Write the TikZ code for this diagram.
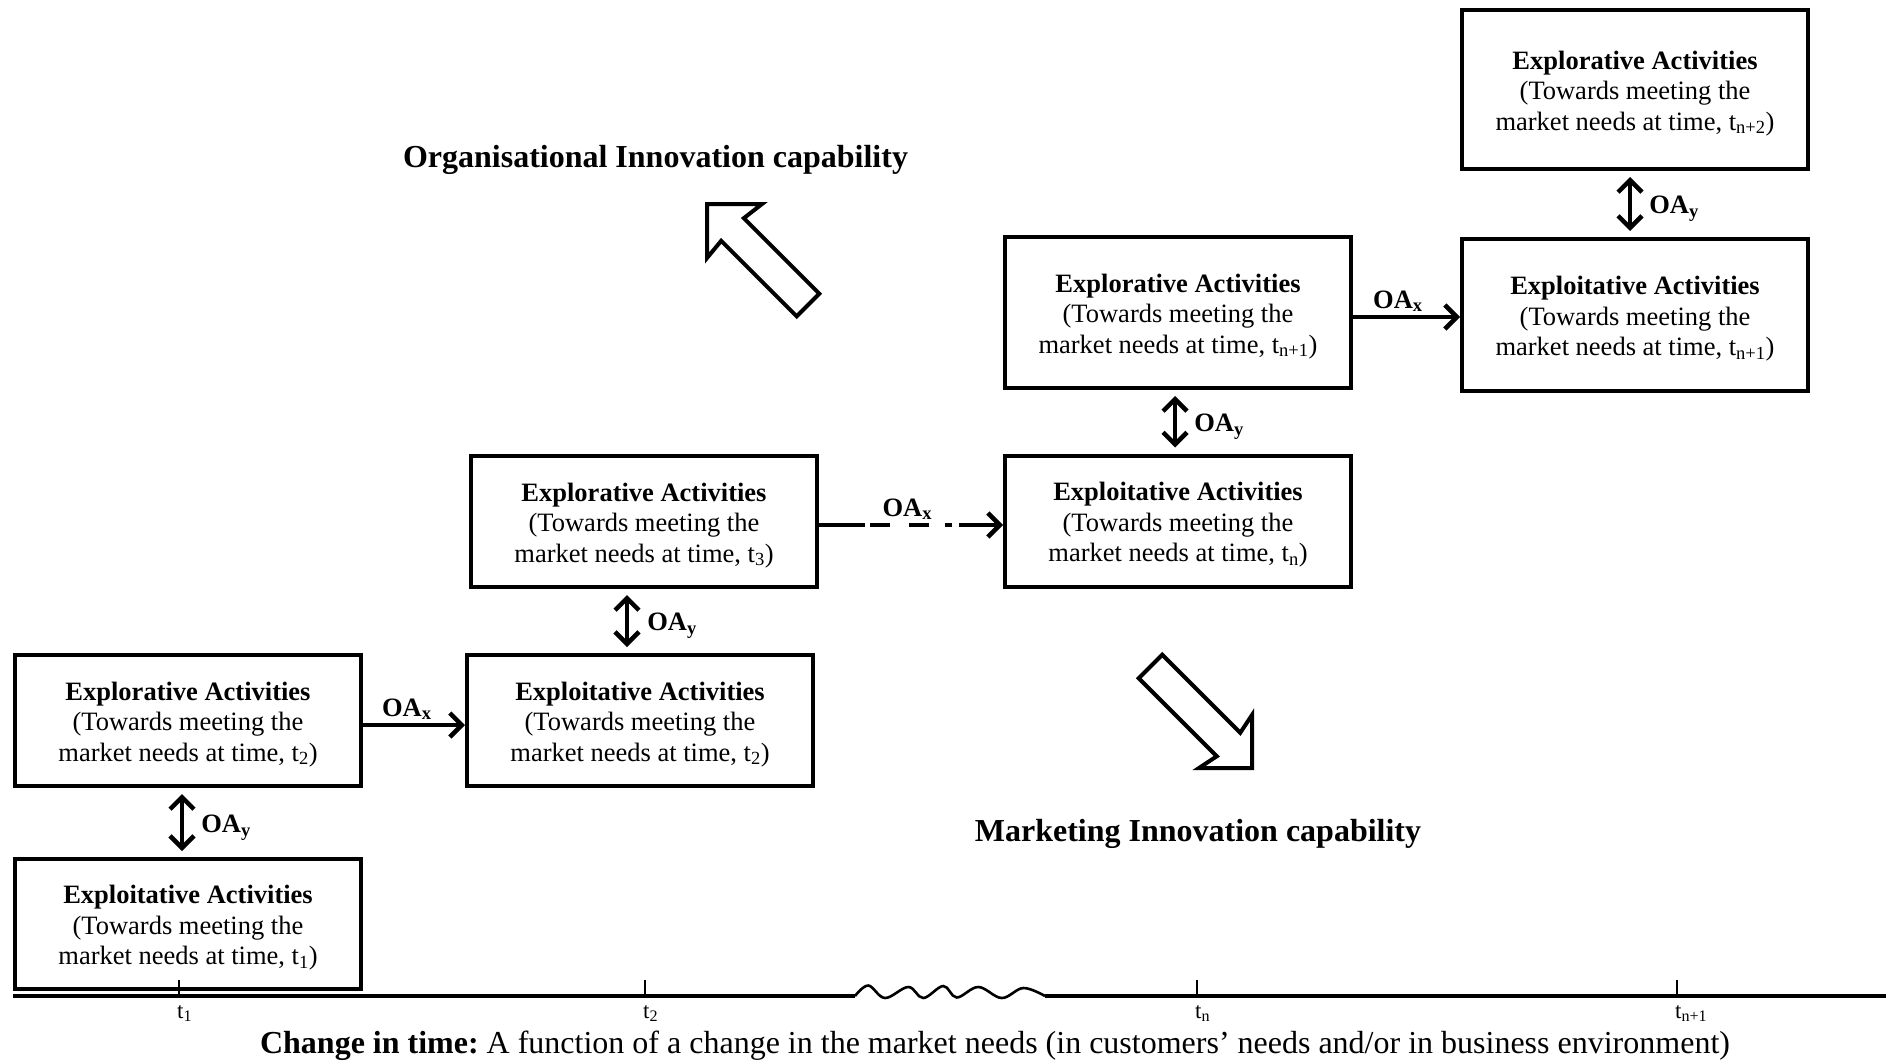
\documentclass[tikz,border=0pt]{standalone}
\usepackage{fontspec}
\setmainfont{Liberation Serif}
\usetikzlibrary{arrows.meta}
\frenchspacing

% box contents: bold heading plus two lines; the strut lowers the block a little
\newcommand{\acttext}[2]{\rule{0pt}{26pt}{\bfseries #1}\\(Towards meeting the\\market needs at time, t\textsubscript{#2})}

\tikzset{
  actbox/.style={draw, line width=4pt, minimum width=346pt, minimum height=131pt,
    align=center, inner sep=0pt, font=\fontsize{26.5}{30.5}\selectfont},
  barb/.tip={Straight Barb[length=12pt,width=24pt]},
  linkh/.style={line width=4.5pt, -barb},
  linkv/.style={line width=4.5pt, barb-barb, shorten <=6pt, shorten >=6pt},
  oalab/.style={font=\fontsize{26.5}{30}\selectfont\bfseries, inner sep=3pt},
  bigarrow/.style={line width=4pt, line join=miter, fill=white},
  captitle/.style={font=\fontsize{32}{36}\selectfont\bfseries},
  axisline/.style={line width=3.6pt},
  wavyline/.style={line width=2.6pt},
  tickmark/.style={line width=2pt},
  ticklab/.style={font=\fontsize{23}{26}\selectfont, inner sep=0pt, anchor=north west}
}

\begin{document}
\begin{tikzpicture}[x=1pt,y=-1pt]
\useasboundingbox (0,0) rectangle (1892,1061);
\fill[white] (0,0) rectangle (1892,1061);

% activity boxes
\node[actbox, minimum height=130pt] (A) at (188,924) {\acttext{Exploitative Activities}{1}};
\node[actbox] (B) at (188,720.5) {\acttext{Explorative Activities}{2}};
\node[actbox] (C) at (640,720.5) {\acttext{Exploitative Activities}{2}};
\node[actbox] (D) at (644,521.5) {\acttext{Explorative Activities}{3}};
\node[actbox] (E) at (1178,521) {\acttext{Exploitative Activities}{n}};
\node[actbox, minimum height=151pt] (F) at (1178,312.5) {\acttext{Explorative Activities}{n+1}};
\node[actbox, minimum height=152pt] (G) at (1635,315) {\acttext{Exploitative Activities}{n+1}};
\node[actbox, minimum height=159pt] (H) at (1635,89.5) {\acttext{Explorative Activities}{n+2}};

% OA_y links (two-way)
\coordinate (ab) at ([xshift=-6pt]A.north);
\draw[linkv] (ab) -- (ab |- B.south)
  node[oalab, midway, right=14pt, yshift=-5pt] {OA\textsubscript{y}};
\coordinate (cd) at ([xshift=-13pt]C.north);
\draw[linkv] (cd) -- (cd |- D.south)
  node[oalab, midway, right=15pt, yshift=-5pt] {OA\textsubscript{y}};
\coordinate (ef) at ([xshift=-3pt]E.north);
\draw[linkv] (ef) -- (ef |- F.south)
  node[oalab, midway, right=14pt, yshift=-5pt] {OA\textsubscript{y}};
\coordinate (gh) at ([xshift=-5pt]G.north);
\draw[linkv] (gh) -- (gh |- H.south)
  node[oalab, midway, right=14pt, yshift=-5pt] {OA\textsubscript{y}};

% OA_x links
\coordinate (bc) at ([yshift=-4.5pt]B.east);
\draw[linkh] (bc) -- (bc -| C.west)
  node[oalab, above, pos=0.43] {OA\textsubscript{x}};
\coordinate (de) at ([yshift=-3.5pt]D.east);
\draw[linkh, dash pattern=on 46pt off 5pt on 20pt off 19pt on 20pt off 16pt on 7pt off 7pt on 200pt]
  (de) -- (de -| E.west)
  node[oalab, above, pos=0.48] {OA\textsubscript{x}};
\coordinate (fg) at ([yshift=-4.5pt]F.east);
\draw[linkh] (fg) -- (fg -| G.west)
  node[oalab, above, pos=0.42] {OA\textsubscript{x}};

% capability directions
\node[captitle] (org) at (655.5,160) {Organisational Innovation capability};
\draw[bigarrow] (707,204) -- (762,204) -- (743.8,218.2) -- (819.3,293.7)
  -- (796.7,316.3) -- (721.2,240.8) -- (707,258) -- cycle;
\node[captitle] (mkt) at (1198,834) {Marketing Innovation capability};
\draw[bigarrow] (1252,768) -- (1199,768) -- (1216.75,756.25) -- (1138.75,678.25)
  -- (1162.25,654.75) -- (1240.25,732.75) -- (1252,715) -- cycle;

% time axis with a break
\coordinate (ax0) at (13,996);
\coordinate (w0) at (855,996);
\coordinate (w1) at (1045,996);
\coordinate (ax1) at (1886,996);
\draw[axisline] (ax0) -- (w0);
\draw[wavyline] plot[smooth, tension=0.6] coordinates {(855,996) (868.3,985.5) (885,998)
  (908.3,987) (923.3,998) (943.3,986) (956.7,997.5) (978.3,987) (1001.7,998)
  (1023.3,988) (1045,996)};
\draw[axisline] (w1) -- (ax1);
\foreach \x/\s/\n in {179/1/t1, 645/2/t2, 1197/n/tn, 1677/n+1/tn1}{
  \draw[tickmark] (\x,996) -- (\x,980);
  \node[ticklab] (\n) at (\x-2,1005) {t\textsubscript{\s}};
}

\node[font=\fontsize{32}{36}\selectfont] (cap) at (995,1046)
  {\textbf{Change in time:} A function of a change in the market needs (in customers’ needs and/or in business environment)};
\end{tikzpicture}
\end{document}
